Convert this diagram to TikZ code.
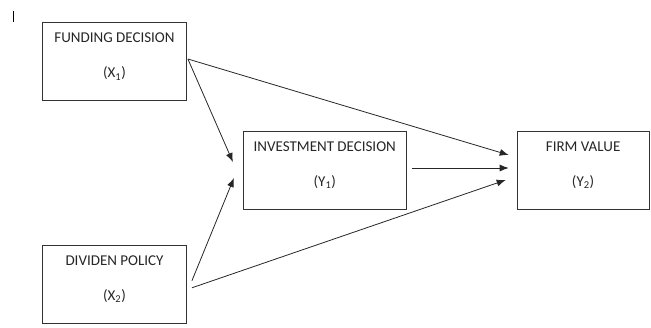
\documentclass[tikz,border=0pt]{standalone}
\usepackage{fontspec}
\setmainfont{Carlito}
\usetikzlibrary{positioning,arrows.meta}
\tikzset{
  box/.style={draw=black!80, line width=0.8pt, minimum height=78pt, align=center,
    inner sep=0pt, font=\fontsize{15}{18}\selectfont, text=black!85, text depth=12pt},
  arr/.style={-{Latex[length=9pt,width=7pt]}, line width=0.8pt, black!85},
}
\begin{document}
\begin{tikzpicture}[x=1pt,y=1pt]
  \useasboundingbox (0,0) rectangle (651,-327);
  \node[box, minimum width=144pt] (fund) at (114.5,-61.5) {FUNDING DECISION\\[17pt](X\textsubscript{1})};
  \node[box, minimum width=144pt, below=144pt of fund] (div) {DIVIDEN POLICY\\[17pt](X\textsubscript{2})};
  \node[box, minimum width=163pt, right=56pt of fund, yshift=-108.5pt] (inv) {INVESTMENT DECISION\\[17pt](Y\textsubscript{1})};
  \node[box, minimum width=132pt, right=110pt of inv] (firm) {FIRM VALUE\\[17pt](Y\textsubscript{2})};
  % cursor mark
  \coordinate (c1) at (13,-11);
  \coordinate (c2) at (13,-22);
  \draw[line width=0.8pt] (c1) -- (c2);
  \draw[arr] ([xshift=1pt,yshift=2.5pt]fund.east) -- ([xshift=-10pt,yshift=8pt]inv.west);
  \draw[arr] ([xshift=1pt,yshift=2.5pt]fund.east) -- ([xshift=-8pt,yshift=15pt]firm.west);
  \draw[arr] ([xshift=5pt,yshift=2pt]inv.east) -- ([xshift=-8pt,yshift=2pt]firm.west);
  \draw[arr] ([xshift=5pt,yshift=3.5pt]div.east) -- ([xshift=-9pt,yshift=-8pt]inv.west);
  \draw[arr] ([xshift=5pt,yshift=-3.5pt]div.east) -- ([xshift=-11pt,yshift=-10pt]firm.west);
\end{tikzpicture}
\end{document}
